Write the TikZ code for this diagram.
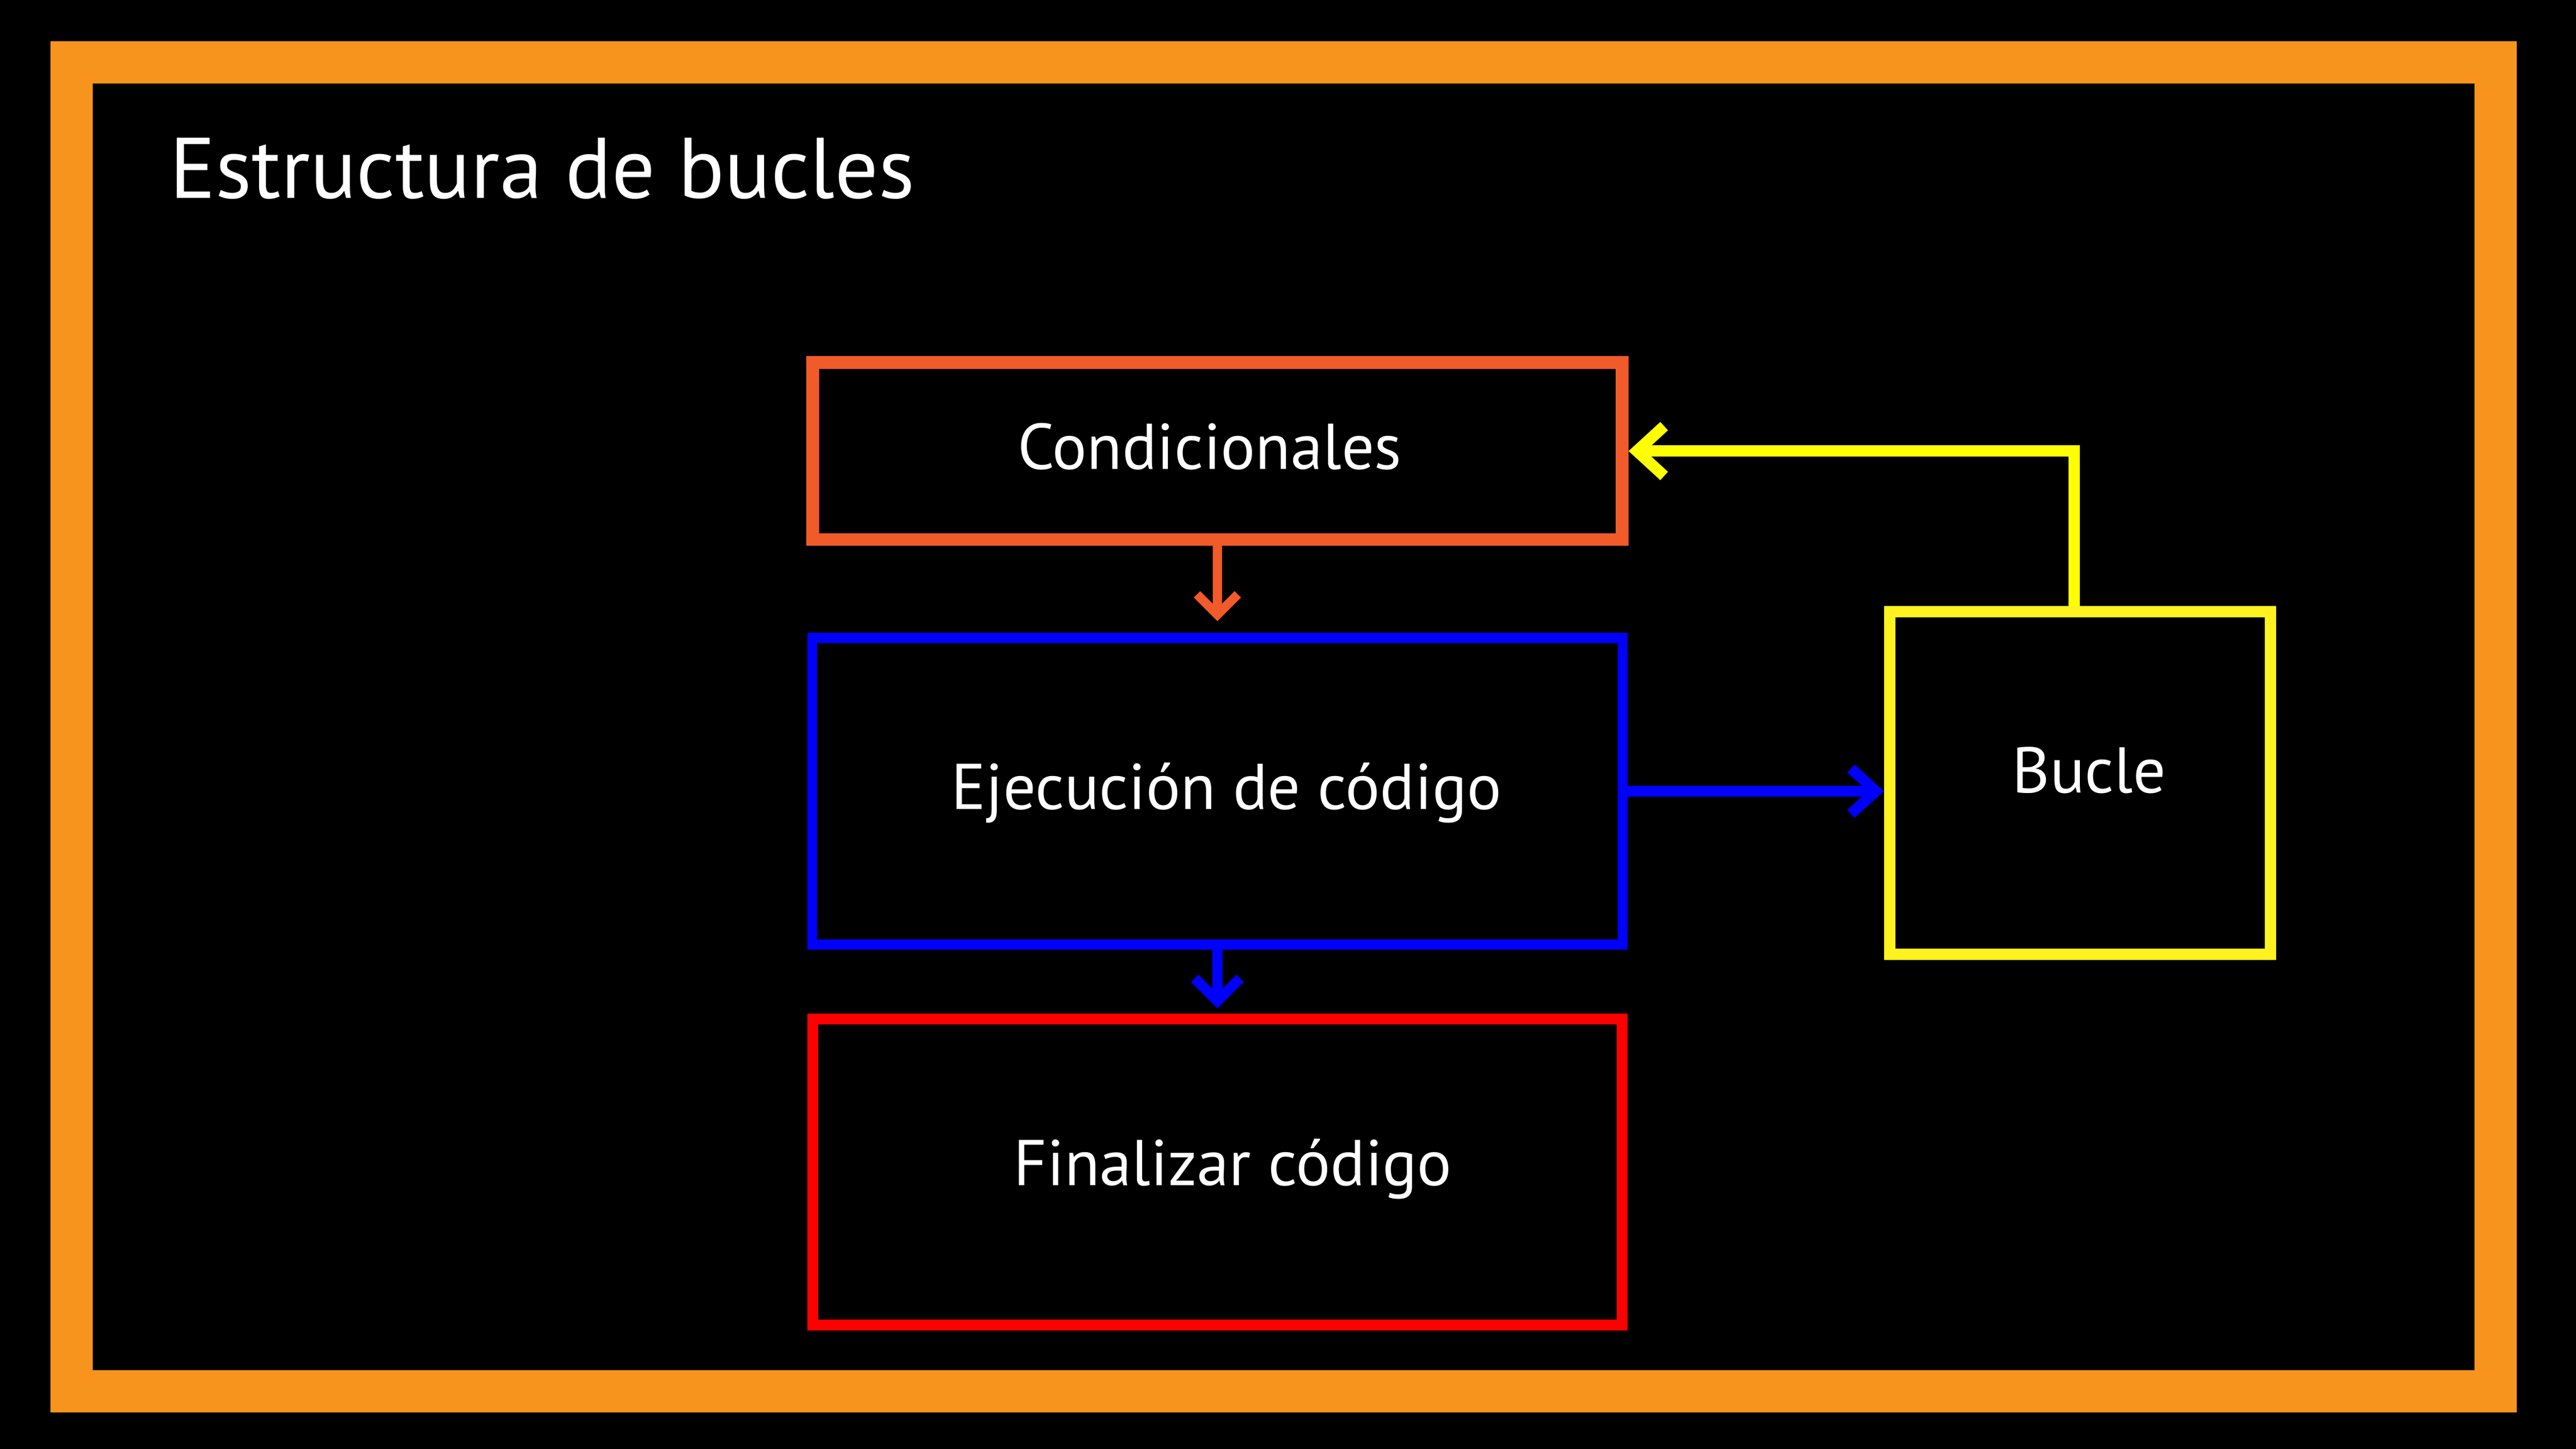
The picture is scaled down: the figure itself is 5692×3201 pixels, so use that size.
\documentclass[tikz,border=0pt]{standalone}
\usepackage{fontspec}
\setmainfont{PT Sans}
\usepackage{tikz}
\usetikzlibrary{arrows.meta,positioning}
\usepackage{xcolor}
\definecolor{marco}{HTML}{F7941D}
\definecolor{naranja}{HTML}{F15A29}
\definecolor{azul}{HTML}{0000FF}
\definecolor{rojo}{HTML}{FF0000}
\definecolor{amarillo}{HTML}{FFF21F}
\definecolor{amarillofl}{HTML}{FFFF00}
\tikzstyle{caja} = [draw, rectangle, inner sep=0pt, fill=black]
\tikzstyle{rotulo} = [text=white, font=\fontsize{40.6}{48}\selectfont, inner sep=0pt, anchor=base]
\tikzstyle{titulo} = [text=white, font=\fontsize{54}{64}\selectfont, inner sep=0pt, anchor=base west]
\tikzstyle{flecha} = [-{Straight Barb[sharp,length=4.5mm,width=9mm]}]

\begin{document}
\begin{tikzpicture}[x=0.01cm, y=-0.01cm]
\fill[black] (0,0) rectangle (5692,3201);
\draw[marco, line width=0.93cm] (158.5,138) rectangle (5514.5,3073.5);
\node[titulo] (tit) at (374,438) {Estructura de bucles};
% cajas
\node[caja, draw=naranja, line width=0.28cm, minimum width=17.88cm, minimum height=3.91cm] (cond) at (2690,996.5) {};
\node[caja, draw=azul, line width=0.22cm, minimum width=17.90cm, minimum height=6.77cm, below=1.92cm of cond] (exec) {};
\node[caja, draw=rojo, line width=0.24cm, minimum width=17.88cm, minimum height=6.76cm, below=1.41cm of exec] (fin) {};
\node[caja, draw=amarillo, line width=0.25cm, minimum width=8.41cm, minimum height=7.57cm] (bucle) at (4596,1730) {};
% textos
\node[rotulo] (condtxt) at ([shift={(-17,39.5)}]cond.center) {Condicionales};
\node[rotulo] (exectxt) at ([shift={(20,39.5)}]exec.center) {Ejecución de código};
\node[rotulo] (fintxt) at ([shift={(34,30)}]fin.center) {Finalizar código};
\node[rotulo] (bucletxt) at ([shift={(20,21)}]bucle.center) {Bucle};
% flechas
\draw[flecha, naranja, line width=0.2cm, shorten >=0.26cm] (cond) -- (exec);
\draw[flecha, azul, line width=0.23cm, shorten >=0.11cm, -{Straight Barb[sharp,length=5mm,width=10mm]}] (exec) -- (fin);
\draw[flecha, azul, line width=0.24cm, -{Straight Barb[sharp,length=5.5mm,width=10mm]}] (exec.east) -- (exec.east -| bucle.west);
\draw[flecha, amarillofl, line width=0.25cm, -{Straight Barb[sharp,length=6mm,width=11mm]}] ([xshift=-0.13cm]bucle.north) |- (cond.east);
\end{tikzpicture}
\end{document}
